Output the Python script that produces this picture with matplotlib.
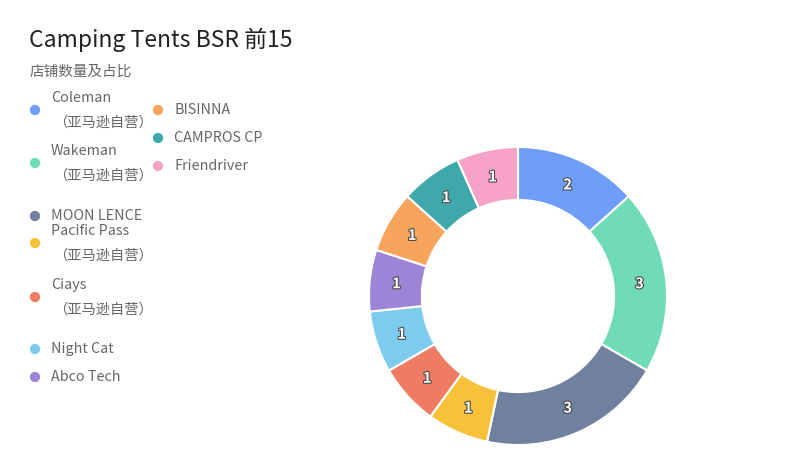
import matplotlib.pyplot as plt
import matplotlib.patheffects as pe
import numpy as np

plt.rcParams['font.family'] = ['Noto Sans CJK SC', 'DejaVu Sans']

# ====================== data ======================
brands = ['Coleman', 'Wakeman', 'MOON LENCE', 'Pacific Pass', 'Ciays',
          'Night Cat', 'Abco Tech', 'BISINNA', 'CAMPROS CP', 'Friendriver']
legend_labels = ['Coleman\n（亚马逊自营）', 'Wakeman\n（亚马逊自营）', 'MOON LENCE',
                 'Pacific Pass\n（亚马逊自营）', 'Ciays\n（亚马逊自营）',
                 'Night Cat', 'Abco Tech', 'BISINNA', 'CAMPROS CP', 'Friendriver']
shop_counts = [2, 3, 3, 1, 1, 1, 1, 1, 1, 1]
colors = ['#6e9ef8', '#6fdcb6', '#6f819f', '#f7c23a', '#ee7b62',
          '#7dccee', '#9e84d6', '#f7a45d', '#3ea8aa', '#f7a3c8']

title = 'Camping Tents BSR 前15'
subtitle = '店铺数量及占比'

W, H = 800, 474
fig = plt.figure(figsize=(W / 100, H / 100), dpi=100)
fig.patch.set_facecolor('white')

# ---- donut ----
cx, cy, r = 518, 296, 149
ax = fig.add_axes([(cx - 150) / W, (H - cy - 150) / H, 300 / W, 300 / H])
wedges, _ = ax.pie(shop_counts, colors=colors, startangle=90, counterclock=False,
                   radius=1.0, wedgeprops=dict(width=0.355, edgecolor='white', linewidth=1.5))
ax.set_xlim(-150 / r, 150 / r)
ax.set_ylim(-150 / r, 150 / r)
ax.set_aspect('equal')
ax.axis('off')

for w, v in zip(wedges, shop_counts):
    ang = np.deg2rad((w.theta1 + w.theta2) / 2)
    ax.text(0.82 * np.cos(ang), 0.82 * np.sin(ang), str(v), ha='center', va='center',
            fontsize=10.5, fontweight='semibold', color='white',
            path_effects=[pe.withStroke(linewidth=1.6, foreground='#4a4a4a')])

# ---- title / legend overlay (pixel coords) ----
ov = fig.add_axes([0, 0, 1, 1])
ov.set_xlim(0, W)
ov.set_ylim(H, 0)
ov.axis('off')
ov.patch.set_alpha(0)

ov.text(29, 40, title, fontsize=16.5, color='#222222', va='center', ha='left')
ov.text(30, 72, subtitle, fontsize=10.5, color='#666666', va='center', ha='left')

# legend rows: (marker x, marker y) per entry
col1 = [110, 163, 216, 243, 297, 349, 377]
col2 = [110, 138, 166]
pos = [(35, y) for y in col1] + [(158, y) for y in col2]
for (x, y), lab, c in zip(pos, legend_labels, colors):
    ov.scatter([x], [y], s=55, color=c, edgecolors='none')
    if '\n' in lab:
        name, note = lab.split('\n')
        ov.text(x + 16, y - 12, name, fontsize=10.3, color='#666666', va='center', ha='left')
        ov.text(x + 18, y + 13, note, fontsize=10.3, color='#666666', va='center', ha='left')
    else:
        ov.text(x + 16, y, lab, fontsize=10.3, color='#666666', va='center', ha='left')

fig.savefig('out.png', dpi=100, facecolor='white')
